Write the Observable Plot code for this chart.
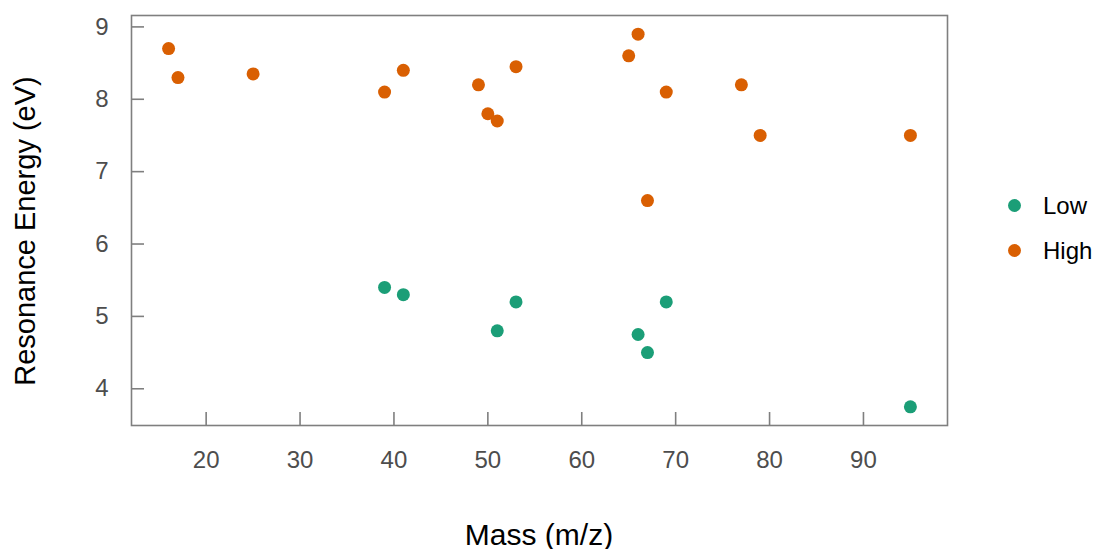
<!DOCTYPE html>
<html><head><meta charset="utf-8">
<script src="https://cdn.jsdelivr.net/npm/d3@7"></script>
<script src="https://cdn.jsdelivr.net/npm/@observablehq/plot@0.6"></script>
<style>
body{margin:0;background:#fff;font-family:"Liberation Sans",Arial,sans-serif;}
#wrap{position:relative;width:1096px;height:549px;}
.ttl{position:absolute;color:#000;font-size:30px;white-space:nowrap;line-height:1;}
#legend{position:absolute;left:1008px;top:183px;font-size:24px;color:#000;}
#legend div{display:flex;align-items:center;height:45px;}
#legend span.c{display:inline-block;width:13px;height:13px;border-radius:50%;margin-right:22px;}
</style></head>
<body><div id="wrap"></div>
<script>
const lowMass = [39, 41, 51, 53, 66, 67, 69, 95];
const lowEnergy = [5.4, 5.3, 4.8, 5.2, 4.75, 4.5, 5.2, 3.75];
const highMass = [16, 17, 25, 39, 41, 49, 50, 51, 53, 65, 66, 67, 69, 77, 79, 95];
const highEnergy = [8.7, 8.3, 8.35, 8.1, 8.4, 8.2, 7.8, 7.7, 8.45, 8.6, 8.9, 6.6, 8.1, 8.2, 7.5, 7.5];
const groups = ["Low", "High"];
const colors = ["#1b9e77", "#d95f02"];
const xTicks = [20, 30, 40, 50, 60, 70, 80, 90];
const yTicks = [4, 5, 6, 7, 8, 9];

const data = [
  ...lowMass.map((m, i) => ({mass: m, energy: lowEnergy[i], group: "Low"})),
  ...highMass.map((m, i) => ({mass: m, energy: highEnergy[i], group: "High"}))
];

const chart = Plot.plot({
  width: 1096, height: 549,
  marginTop: 15, marginBottom: 124, marginLeft: 131, marginRight: 149,
  style: {fontFamily: "Liberation Sans, Arial, sans-serif", fontSize: "24px", color: "#4d4d4d", background: "#fff"},
  x: {domain: [12.05, 98.95]},
  y: {domain: [3.4925, 9.1575]},
  color: {domain: groups, range: colors},
  marks: [
    Plot.frame({stroke: "#7f7f7f", strokeWidth: 1.6}),
    Plot.axisX(xTicks, {tickSize: -13, stroke: "#7f7f7f", strokeWidth: 1.6, text: null, label: null}),
    Plot.axisX(xTicks, {tickSize: 0, tickPadding: 25, fontSize: 24, fill: "#4d4d4d", label: null, tickFormat: d3.format("d")}),
    Plot.axisY(yTicks, {tickSize: -13, stroke: "#7f7f7f", strokeWidth: 1.6, text: null, label: null}),
    Plot.axisY(yTicks, {tickSize: 0, tickPadding: 23, fontSize: 24, fill: "#4d4d4d", label: null, tickFormat: d3.format("d")}),
    Plot.dot(data, {x: "mass", y: "energy", fill: "group", r: 6.5})
  ]
});
const wrap = document.getElementById("wrap");
wrap.appendChild(chart);

const xt = document.createElement("div");
xt.className = "ttl"; xt.textContent = "Mass (m/z)";
xt.style.left = "539px"; xt.style.top = "535px"; xt.style.transform = "translate(-50%,-50%)";
wrap.appendChild(xt);
const yt = document.createElement("div");
yt.className = "ttl"; yt.textContent = "Resonance Energy (eV)";
yt.style.fontSize = "29px";
yt.style.left = "25px"; yt.style.top = "231px"; yt.style.transform = "translate(-50%,-50%) rotate(-90deg)";
wrap.appendChild(yt);

const lg = document.createElement("div");
lg.id = "legend";
groups.forEach((g, i) => {
  const row = document.createElement("div");
  const c = document.createElement("span"); c.className = "c"; c.style.background = colors[i];
  row.appendChild(c); row.appendChild(document.createTextNode(g));
  lg.appendChild(row);
});
wrap.appendChild(lg);
</script></body></html>
